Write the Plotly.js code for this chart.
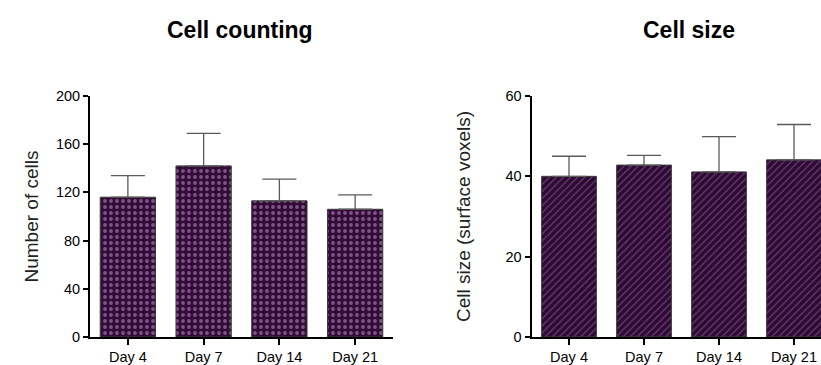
<!DOCTYPE html>
<html>
<head>
<meta charset="utf-8">
<script src="https://cdn.plot.ly/plotly-3.0.1.min.js"></script>
<style>
  html, body { margin: 0; padding: 0; background: #fff; }
  #chart { width: 821px; height: 365px; }
</style>
</head>
<body>
<div id="chart"></div>
<script>
// Time points shared by both panels
const days = ['Day 4', 'Day 7', 'Day 14', 'Day 21'];

// Cell counting: mean and upper SD
const cellCount = [116, 142, 113, 106];
const cellCountErr = [18, 27, 18, 12];

// Cell size (surface voxels): mean and upper SD
const cellSize = [40, 42.8, 41.1, 44.1];
const cellSizeErr = [5, 2.4, 8.8, 8.8];

const countTicks = [0, 40, 80, 120, 160, 200];
const sizeTicks = [0, 20, 40, 60];

const W = 821, H = 365;
const M = { l: 0, r: 0, t: 96, b: 28 };
const font = 'Liberation Sans, Arial, sans-serif';

function barTrace(y, err, xa, ya, pattern) {
  return {
    type: 'bar', x: days, y: y, xaxis: xa, yaxis: ya,
    width: 0.73,
    marker: {
      color: '#2e0a33',
      line: { color: '#3a3a3a', width: 1 },
      pattern: pattern
    },
    error_y: {
      type: 'data', array: err, arrayminus: err.map(() => 0), symmetric: false,
      color: '#5a5a5a', thickness: 1.3, width: 17
    },
    showlegend: false, hoverinfo: 'skip'
  };
}

const data = [
  barTrace(cellCount, cellCountErr, 'x', 'y',
    { shape: '.', fgcolor: '#c4a0d2', bgcolor: '#330a38', size: 6, solidity: 0.32, fillmode: 'overlay' }),
  barTrace(cellSize, cellSizeErr, 'x2', 'y2',
    { shape: '/', fgcolor: '#9c72b4', bgcolor: '#2e0a33', size: 5, solidity: 0.25, fillmode: 'overlay' })
];

const axisCommon = {
  showline: true, linecolor: '#000', linewidth: 2,
  ticks: 'outside', tickcolor: '#000', tickwidth: 2, ticklen: 5,
  showgrid: false, zeroline: false,
  tickfont: { family: font, size: 14.5, color: '#000' }
};

// paper-y for a pixel row measured from the top of the page
const py = px => (H - M.b - px) / (H - M.t - M.b);

const layout = {
  width: W, height: H,
  margin: M,
  paper_bgcolor: '#fff', plot_bgcolor: '#fff',
  font: { family: font, color: '#000' },
  xaxis: Object.assign({}, axisCommon, {
    domain: [90 / W, 393 / W], range: [-0.5, 3.5], type: 'category', ticklen: 6
  }),
  yaxis: Object.assign({}, axisCommon, {
    range: [0, 200], tickvals: countTicks, anchor: 'x',
    title: { text: 'Number of cells', font: { family: font, size: 19, color: '#222' }, standoff: 12 }
  }),
  xaxis2: Object.assign({}, axisCommon, {
    domain: [531.5 / W, 1], range: [-0.5, 3.36], type: 'category', anchor: 'y2', ticklen: 6
  }),
  yaxis2: Object.assign({}, axisCommon, {
    range: [0, 60], tickvals: sizeTicks, anchor: 'x2',
    title: { text: 'Cell size (surface voxels)', font: { family: font, size: 19, color: '#222' }, standoff: 30 }
  }),
  annotations: [
    { text: '<b>Cell counting</b>', x: 240 / W, y: py(30), xref: 'paper', yref: 'paper',
      xanchor: 'center', yanchor: 'middle', showarrow: false, font: { family: font, size: 23 } },
    { text: '<b>Cell size</b>', x: 689 / W, y: py(30), xref: 'paper', yref: 'paper',
      xanchor: 'center', yanchor: 'middle', showarrow: false, font: { family: font, size: 23 } }
  ]
};

Plotly.newPlot('chart', data, layout, { staticPlot: true, displayModeBar: false });
</script>
</body>
</html>
